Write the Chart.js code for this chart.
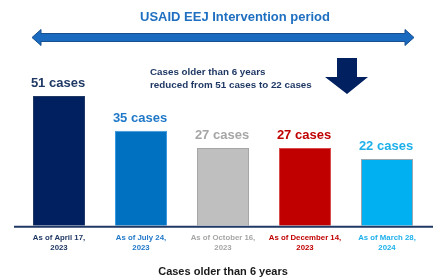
<!DOCTYPE html>
<html>
<head>
<meta charset="utf-8">
<script src="https://cdn.jsdelivr.net/npm/chart.js@4.4.1/dist/chart.umd.min.js"></script>
<style>
  html, body { margin: 0; padding: 0; background: #fff; }
  #wrap { width: 433px; height: 277px; }
</style>
</head>
<body>
<div id="wrap"><canvas id="chart"></canvas></div>
<script>
// data
const labels = [
  ['As of April 17,', '2023'],
  ['As of July 24,', '2023'],
  ['As of October 16,', '2023'],
  ['As of December 14,', '2023'],
  ['As of March 28,', '2024']
];
const cases = [51, 35, 27, 27, 22];

const barColors = ['#002060', '#0070c0', '#bfbfbf', '#c00000', '#00b0f0'];
const barBorders = ['#1f3864', '#3a98de', '#a6a6a6', '#d94a4a', '#9aa7b0'];
const textColors = ['#1f3864', '#1f78c8', '#a6a6a6', '#c00000', '#1eb0ea'];

const titleText = 'USAID EEJ Intervention period';
const noteLines = ['Cases older than 6 years', 'reduced from 51 cases to 22 cases'];
const axisTitle = 'Cases older than 6 years';
const axisStart = -8.8;

const FONT = "'Liberation Sans', Arial, sans-serif";

const annotations = {
  id: 'annotations',
  afterDraw(chart) {
    const c = chart.ctx;
    const area = chart.chartArea;
    c.save();

    // baseline
    c.strokeStyle = '#1f3864';
    c.lineWidth = 2;
    c.beginPath();
    c.moveTo(14, area.bottom + 1);
    c.lineTo(433, area.bottom + 1);
    c.stroke();

    // heading
    c.fillStyle = '#1f6fc0';
    c.font = 'bold 13px ' + FONT;
    c.textAlign = 'center';
    c.textBaseline = 'middle';
    c.fillText(titleText, 235, 17);

    // double-headed arrow
    const ay = 37.5, x0 = 32, x1 = 414, hl = 9, hw = 8, sw = 4;
    c.fillStyle = '#1a6bbf';
    c.strokeStyle = '#174f8f';
    c.lineWidth = 1;
    c.beginPath();
    c.moveTo(x0, ay);
    c.lineTo(x0 + hl, ay - hw);
    c.lineTo(x0 + hl, ay - sw);
    c.lineTo(x1 - hl, ay - sw);
    c.lineTo(x1 - hl, ay - hw);
    c.lineTo(x1, ay);
    c.lineTo(x1 - hl, ay + hw);
    c.lineTo(x1 - hl, ay + sw);
    c.lineTo(x0 + hl, ay + sw);
    c.lineTo(x0 + hl, ay + hw);
    c.closePath();
    c.fill();
    c.stroke();

    // note
    c.fillStyle = '#1f3864';
    c.font = 'bold 9.8px ' + FONT;
    c.textAlign = 'left';
    c.textBaseline = 'alphabetic';
    c.fillText(noteLines[0], 150, 75);
    c.fillText(noteLines[1], 150, 88);

    // down arrow
    c.fillStyle = '#002060';
    c.beginPath();
    c.moveTo(337, 58);
    c.lineTo(357, 58);
    c.lineTo(357, 77);
    c.lineTo(368, 77);
    c.lineTo(347, 94);
    c.lineTo(325, 77);
    c.lineTo(337, 77);
    c.closePath();
    c.fill();

    // value labels over bars
    const meta = chart.getDatasetMeta(0);
    c.font = 'bold 13px ' + FONT;
    c.textAlign = 'center';
    meta.data.forEach((bar, i) => {
      c.fillStyle = textColors[i];
      c.fillText(cases[i] + ' cases', bar.x - 1, bar.y - 9);
    });

    c.restore();
  }
};

new Chart(document.getElementById('chart'), {
  type: 'bar',
  data: {
    labels: labels,
    datasets: [{
      data: cases,
      base: axisStart,
      backgroundColor: barColors,
      borderColor: barBorders,
      borderWidth: 1,
      categoryPercentage: 1,
      barPercentage: 0.634
    }]
  },
  options: {
    responsive: true,
    maintainAspectRatio: false,
    animation: false,
    layout: { padding: { top: 96, left: 18, right: 5, bottom: 0 } },
    plugins: {
      legend: { display: false },
      tooltip: { enabled: false }
    },
    scales: {
      x: {
        grid: { display: false, drawTicks: false },
        border: { display: false },
        ticks: {
          padding: 7,
          maxRotation: 0,
          autoSkip: false,
          font: { family: FONT, size: 7.8, weight: 'bold', lineHeight: 1.3 },
          color: ctx => textColors[ctx.index]
        },
        title: {
          display: true,
          text: axisTitle,
          color: '#1a1a1a',
          font: { family: FONT, size: 11, weight: 'bold', lineHeight: 1 },
          padding: { top: 6, bottom: 0 }
        }
      },
      y: {
        display: false,
        min: axisStart,
        max: 51
      }
    }
  },
  plugins: [annotations]
});
</script>
</body>
</html>
